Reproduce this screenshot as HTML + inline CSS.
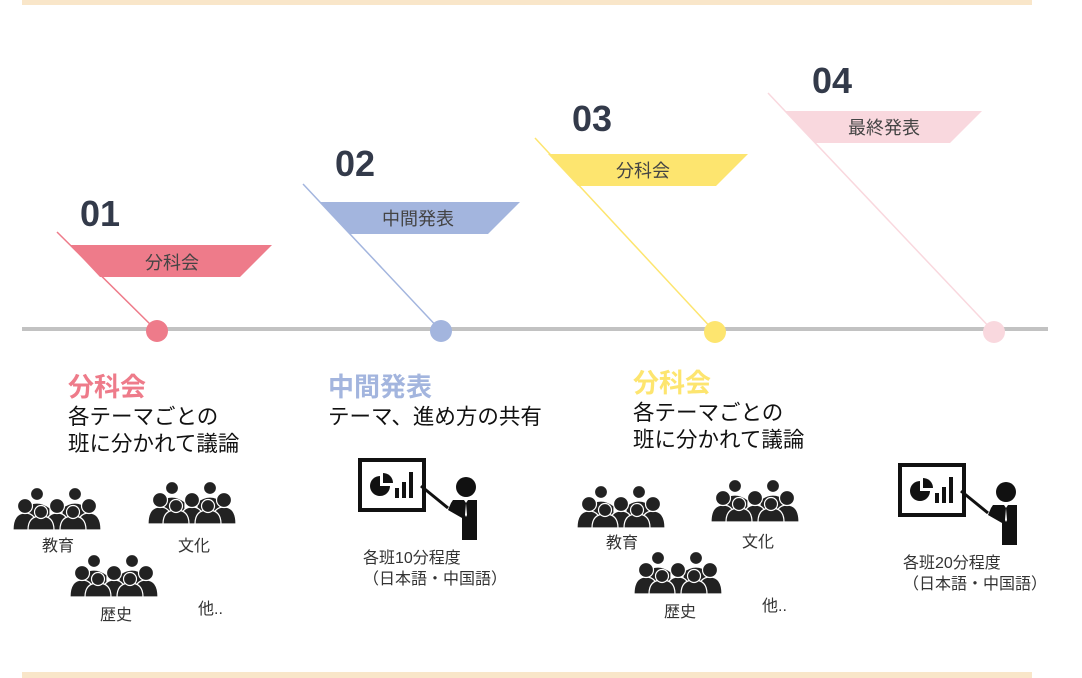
<!DOCTYPE html>
<html><head><meta charset="utf-8"><style>
body{margin:0;background:#fff;}
svg{display:block;font-family:"Liberation Sans","Noto Sans CJK JP",sans-serif;}
</style></head><body>
<svg width="1082" height="678" viewBox="0 0 1082 678">
<defs>
<g id="ppl" fill="#222" stroke="#fff" stroke-width="1.2">
<circle cx="24" cy="7" r="6.5"/><circle cx="62" cy="7" r="6.5"/>
<path d="M11 21 q13 -10 26 0 v10 h-26z"/><path d="M49 21 q13 -10 26 0 v10 h-26z"/>
<path d="M0 43 q0 -17 12 -17 q12 0 12 17z"/><circle cx="12" cy="19" r="7.5"/>
<path d="M32 43 q0 -17 12 -17 q12 0 12 17z"/><circle cx="44" cy="19" r="7.5"/>
<path d="M64 43 q0 -17 12 -17 q12 0 12 17z"/><circle cx="76" cy="19" r="7.5"/>
<path d="M15 43 q0 -14 13 -14 q13 0 13 14z"/><circle cx="28" cy="25" r="6.5"/>
<path d="M47 43 q0 -14 13 -14 q13 0 13 14z"/><circle cx="60" cy="25" r="6.5"/>
</g>
<g id="pres">
<rect x="2" y="2" width="64" height="50" fill="#fff" stroke="#111" stroke-width="4"/>
<path d="M22 18 a10 10 0 1 0 10 10 h-10z" fill="#111"/>
<path d="M25 15 v10 h10 a10 10 0 0 0 -10 -10z" fill="#111"/>
<rect x="37" y="30" width="4" height="10" fill="#111"/><rect x="44" y="24" width="4" height="16" fill="#111"/><rect x="51" y="14" width="4" height="26" fill="#111"/>
<line x1="63" y1="28" x2="90" y2="50" stroke="#111" stroke-width="3"/>
<circle cx="108" cy="29" r="10" fill="#111"/>
<path d="M95 42 h24 v40 h-15 v-22 l-14 -8 l3 -7z" fill="#111"/>
<path d="M106 42 l2 3 l-1 12 l1 2 l1 -2 l-1 -12 l2 -3z" fill="#fff"/>
</g>
</defs>
<rect x="22" y="0" width="1010" height="5" fill="#f9e6c9"/>
<rect x="22" y="672" width="1010" height="6" fill="#f9e6c9"/>
<line x1="22" y1="329" x2="1048" y2="329" stroke="#c2c2c2" stroke-width="4"/>
<line x1="57" y1="232" x2="157" y2="331" stroke="#ee7b8a" stroke-width="1.5"/>
<line x1="303" y1="184" x2="441" y2="331" stroke="#a3b5de" stroke-width="1.5"/>
<line x1="535" y1="138" x2="715" y2="332" stroke="#fde56f" stroke-width="1.5"/>
<line x1="768" y1="93" x2="994" y2="332" stroke="#f9d8de" stroke-width="1.5"/>
<polygon points="70,245 272,245 240,277 100,277" fill="#ee7b8a"/>
<polygon points="320,202 520,202 488,234 350,234" fill="#a3b5de"/>
<polygon points="548,154 748,154 716,186 578,186" fill="#fde56f"/>
<polygon points="785,111 982,111 950,143 815,143" fill="#f9d8de"/>
<g font-size="18" fill="#444" text-anchor="middle">
<text x="172" y="269">分科会</text>
<text x="418" y="225">中間発表</text>
<text x="643" y="177">分科会</text>
<text x="884" y="134">最終発表</text>
</g>
<g font-size="36" font-weight="bold" fill="#333a4a">
<text x="80" y="226">01</text>
<text x="335" y="176">02</text>
<text x="572" y="131">03</text>
<text x="812" y="93">04</text>
</g>
<circle cx="157" cy="331" r="11" fill="#ee7b8a"/>
<circle cx="441" cy="331" r="11" fill="#a3b5de"/>
<circle cx="715" cy="332" r="11" fill="#fde56f"/>
<circle cx="994" cy="332" r="11" fill="#f9d8de"/>
<g font-size="26" font-weight="bold">
<text x="68" y="396" fill="#ee7b8a">分科会</text>
<text x="328" y="396" fill="#a3b5de">中間発表</text>
<text x="633" y="392" fill="#fde56f">分科会</text>
</g>
<g font-size="21.5" fill="#111">
<text x="68" y="424">各テーマごとの</text>
<text x="68" y="451">班に分かれて議論</text>
<text x="328" y="424">テーマ、進め方の共有</text>
<text x="633" y="420">各テーマごとの</text>
<text x="633" y="447">班に分かれて議論</text>
</g>
<use href="#ppl" x="13" y="487"/>
<use href="#ppl" x="148" y="481"/>
<use href="#ppl" x="70" y="554"/>
<use href="#ppl" x="577" y="485"/>
<use href="#ppl" x="711" y="479"/>
<use href="#ppl" x="634" y="551"/>
<use href="#pres" x="358" y="458"/>
<use href="#pres" x="898" y="463"/>
<g font-size="16" fill="#333">
<text x="42" y="551">教育</text>
<text x="178" y="551">文化</text>
<text x="100" y="620">歴史</text>
<text x="198" y="614">他..</text>
<text x="606" y="548">教育</text>
<text x="742" y="547">文化</text>
<text x="664" y="617">歴史</text>
<text x="762" y="611">他..</text>
<text x="363" y="563">各班10分程度</text>
<text x="363" y="584">（日本語・中国語）</text>
<text x="903" y="568">各班20分程度</text>
<text x="903" y="589">（日本語・中国語）</text>
</g>
</svg>
</body></html>
